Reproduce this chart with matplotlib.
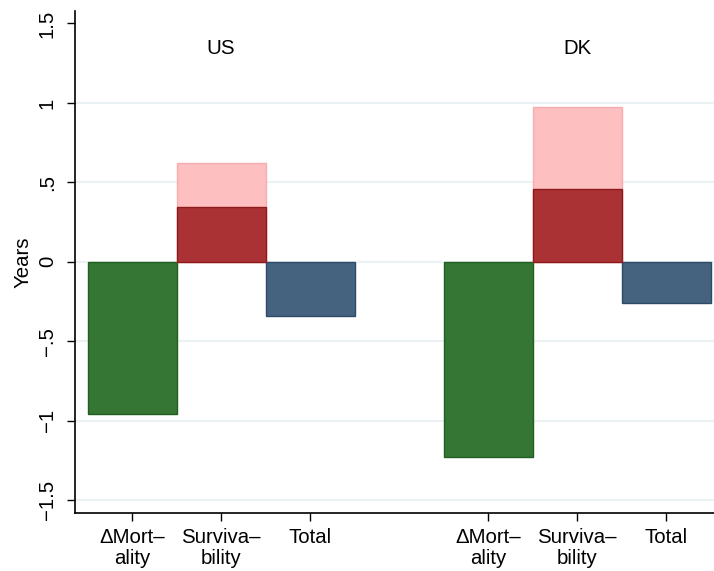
import matplotlib
matplotlib.use("Agg")
import matplotlib.pyplot as plt

plt.rcParams['font.family'] = ['Liberation Sans', 'DejaVu Sans']

# data
groups = ['US', 'DK']
labels = ['\u0394Mort\u2013\nality', 'Surviva\u2013\nbility', 'Total']
mortality = [-0.96, -1.23]
surv_inner = [0.345, 0.46]
surv_outer = [0.62, 0.975]
total = [-0.34, -0.26]
yticks = [-1.5, -1, -0.5, 0, 0.5, 1, 1.5]
yticklabels = ['\u22121.5', '\u22121', '\u2212.5', '0', '.5', '1', '1.5']

# colours
green, green_e = '#357634', '#1f5f1f'
red, red_e = '#aa3234', '#8e1a1c'
pink, pink_e = '#fdbfc0', '#f6aeb0'
blue, blue_e = '#45627e', '#2d4b68'

fs = 14.7

fig = plt.figure(figsize=(7.14, 5.71), dpi=100, facecolor='white')
ax = fig.add_axes([0.1046, 0.101, 0.8954, 0.880])

pos = []
for g in range(len(groups)):
    base = 1 + 4 * g
    p = [base, base + 1, base + 2]
    pos += p
    ax.bar(p[0], mortality[g], width=1, color=green, edgecolor=green_e, linewidth=1, zorder=3)
    ax.bar(p[1], surv_outer[g], width=1, color=pink, edgecolor=pink_e, linewidth=1, zorder=3)
    ax.bar(p[1], surv_inner[g], width=1, color=red, edgecolor=red_e, linewidth=1, zorder=4)
    ax.bar(p[2], total[g], width=1, color=blue, edgecolor=blue_e, linewidth=1, zorder=3)
    ax.text(p[1], 1.345, groups[g], ha='center', va='center', fontsize=fs)

ax.set_xlim(0.356, 7.537)
ax.set_ylim(-1.582, 1.579)

ax.set_xticks(pos)
ax.set_xticklabels(labels * len(groups), fontsize=fs, linespacing=1.15)
ax.set_yticks(yticks)
ax.set_yticklabels(yticklabels, fontsize=fs, rotation=90, va='center')
ax.tick_params(axis='both', direction='out', length=5.8, width=1, color='black')
ax.tick_params(axis='x', pad=4.5)
ax.tick_params(axis='y', pad=7)

ax.set_ylabel('Years', fontsize=fs, labelpad=4)

ax.yaxis.grid(True, color='#eaf2f3', linewidth=1.5, zorder=0)
ax.get_ygridlines()[-1].set_visible(False)
ax.set_axisbelow(True)

for s in ['top', 'right']:
    ax.spines[s].set_visible(False)
for s in ['left', 'bottom']:
    ax.spines[s].set_linewidth(1.2)

plt.savefig('out.png', dpi=100, facecolor='white')
